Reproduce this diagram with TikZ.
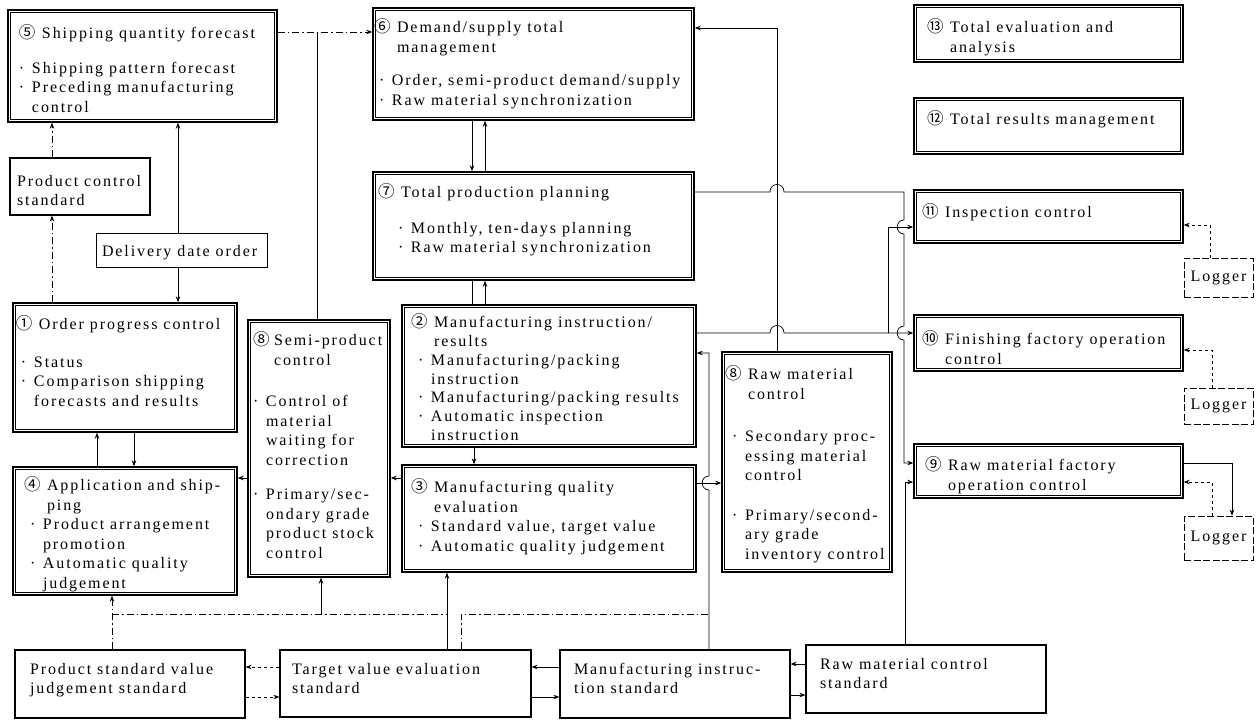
\documentclass[tikz,border=0pt]{standalone}
\usepackage{fontspec}
\setmainfont{Liberation Serif}[LetterSpace=12]
\newfontfamily\cnfont{Noto Sans CJK JP}
\usetikzlibrary{arrows.meta}
\newcommand\mainfs{\fontsize{16}{19.5}\selectfont}
\newcommand\cnum[1]{\makebox[23pt][l]{{\cnfont\fontsize{16.5}{19.5}\selectfont #1}}}
\newcommand\cnumn[1]{\makebox[21pt][l]{{\cnfont\fontsize{16.5}{19.5}\selectfont #1}}}
\newcommand\hin{\hspace*{23pt}}
\newcommand\bul{\makebox[13pt][l]{·}}
\newcommand\bhang{\hspace*{13pt}}
\newcommand\mkbox[6]{\node[#2, minimum width={(#5-#3)*1pt}, minimum height={(#6-#4)*1pt}] (#1) at ({(#3+#5)/2},{(#4+#6)/2}) {};}
\newcommand\mkdbox[5]{\node[obox, minimum width={(#4-#2)*1pt}, minimum height={(#5-#3)*1pt}] (#1) at ({(#2+#4)/2},{(#3+#5)/2}) {};
  \draw[line width=0.55pt] ([shift={(3pt,-3pt)}]#1.north west) rectangle ([shift={(-3pt,3pt)}]#1.south east);}
\begin{document}
\begin{tikzpicture}[x=1pt, y=-1pt,
  obox/.style={draw, line width=1.4pt, inner sep=0pt, outer sep=0.7pt},
  sbox/.style={draw, line width=1.2pt, inner sep=0pt, outer sep=0.6pt},
  tbox/.style={draw, line width=0.7pt, inner sep=0pt, outer sep=0.35pt},
  lbox/.style={draw, line width=0.6pt, dash pattern=on 7pt off 2.5pt, inner sep=0pt},
  txt/.style={anchor=north west, inner sep=0pt, outer sep=0pt, align=left, font=\mainfs},
  ln/.style={line width=0.7pt},
  arr/.style={ln, -{Stealth[length=6pt,width=4.5pt]}},
  dsh/.style={dash pattern=on 7pt off 3pt on 1.5pt off 3pt}]
\fill[white] (0,0) rectangle (1256,724);
\useasboundingbox (0,0) rectangle (1256,724);
% boxes
\mkdbox{n5}{8}{10}{277}{122}
\mkdbox{n6}{373}{8}{694}{120}
\mkdbox{n7}{373}{172}{694}{280}
\mkdbox{n13}{914}{5}{1183}{62}
\mkdbox{n12}{914}{98}{1183}{154}
\mkdbox{n11}{914}{190}{1183}{243}
\mkdbox{n10}{914}{315}{1183}{371}
\mkdbox{n9}{914}{444}{1183}{498}
\mkbox{pcs}{sbox}{10}{158}{150}{215}
\mkbox{ddo}{tbox}{96}{233}{267}{267}
\mkdbox{n1}{13}{303}{237}{432}
\mkdbox{n4}{13}{467}{237}{595}
\mkdbox{n8s}{248}{320}{390}{577}
\mkdbox{n2}{402}{305}{696}{447}
\mkdbox{n3}{402}{465}{696}{572}
\mkdbox{n8r}{722}{352}{892}{572}
\mkbox{lg1}{lbox}{1184}{258}{1253}{297}
\mkbox{lg2}{lbox}{1184}{388}{1253}{424}
\mkbox{lg3}{lbox}{1184}{516}{1253}{560}
\mkbox{bps}{sbox}{15}{650}{245}{718}
\mkbox{btv}{sbox}{280}{650}{531}{717}
\mkbox{bmi}{sbox}{560}{650}{790}{718}
\mkbox{brm}{sbox}{806}{645}{1046}{713}
% texts
\node[txt] (t5) at (19,25) {\cnum{⑤}Shipping quantity forecast\\[15pt]\bul Shipping pattern forecast\\\bul Preceding manufacturing\\\bhang control};
\node[txt] (t6) at (374,19) {\cnum{⑥}Demand/supply total\\\hin management\\[14pt]\hspace*{5pt}\bul Order, semi-product demand/supply\\\hspace*{5pt}\bul Raw material synchronization};
\node[txt] (t7) at (378,184) {\cnum{⑦}Total production planning\\[16pt]\hspace*{20pt}\bul Monthly, ten-days planning\\\hspace*{20pt}\bul Raw material synchronization};
\node[txt] (t13) at (927,19) {\cnum{⑬}Total evaluation and\\\hin analysis};
\node[txt] (t12) at (927,111) {\cnum{⑫}Total results management};
\node[txt] (t11) at (922,204) {\cnum{⑪}Inspection control};
\node[txt] (t10) at (922,331) {\cnum{⑩}Finishing factory operation\\\hin control};
\node[txt] (t9) at (925,457) {\cnum{⑨}Raw material factory\\\hin operation control};
\node[txt] (tpcs) at (17,175) {Product control\\standard};
\node[txt] (tddo) at (102,245) {Delivery date order};
\node[txt] (t1) at (16,316) {\cnum{①}Order progress control\\[18pt]\hspace*{5pt}\bul Status\\\hspace*{5pt}\bul Comparison shipping\\\hspace*{5pt}\bhang forecasts and results};
\node[txt] (t4) at (24,477) {\cnum{④}Application and ship-\\\hin ping\\\hspace*{6pt}\bul Product arrangement\\\hspace*{6pt}\bhang promotion\\\hspace*{6pt}\bul Automatic quality\\\hspace*{6pt}\bhang judgement};
\node[txt] (t8s) at (253,332) {\cnumn{⑧}Semi-product\\\hspace*{21pt}control\\[22pt]\bul Control of\\\bhang material\\\bhang waiting for\\\bhang correction\\[15pt]\bul Primary/sec-\\\bhang ondary grade\\\bhang product stock\\\bhang control};
\node[txt, font=\fontsize{16}{18.7}\selectfont] (t2) at (411,314) {\cnum{②}Manufacturing instruction/\\\hin results\\\hspace*{7pt}\bul Manufacturing/packing\\\hspace*{7pt}\bhang instruction\\\hspace*{7pt}\bul Manufacturing/packing results\\\hspace*{7pt}\bul Automatic inspection\\\hspace*{7pt}\bhang instruction};
\node[txt] (t3) at (411,479) {\cnum{③}Manufacturing quality\\\hin evaluation\\\hspace*{7pt}\bul Standard value, target value\\\hspace*{7pt}\bul Automatic quality judgement};
\node[txt] (t8r) at (725,366) {\cnum{⑧}Raw material\\\hin control\\[23pt]\hspace*{7pt}\bul Secondary proc-\\\hspace*{7pt}\bhang essing material\\\hspace*{7pt}\bhang control\\[20pt]\hspace*{7pt}\bul Primary/second-\\\hspace*{7pt}\bhang ary grade\\\hspace*{7pt}\bhang inventory control};
\node[font=\mainfs, inner sep=0pt] (tl1) at (lg1) {Logger};
\node[font=\mainfs, inner sep=0pt] (tl2) at (lg2) {Logger};
\node[font=\mainfs, inner sep=0pt] (tl3) at (lg3) {Logger};
\node[txt] (tbps) at (30,663) {Product standard value\\judgement standard};
\node[txt] (tbtv) at (292,663) {Target value evaluation\\standard};
\node[txt] (tbmi) at (574,663) {Manufacturing instruc-\\tion standard};
\node[txt] (tbrm) at (820,658) {Raw material control\\standard};
% coordinates
\coordinate (j1) at (317,32);
\coordinate (b1) at (888,333);
\coordinate (bus1) at (112,614);
\coordinate (bus2) at (447,614);
\coordinate (bus3) at (321,614);
\coordinate (j2) at (709,614);
% connectors top
\draw[arr, dsh] (n5.east |- 0,32) -- (n6.west |- 0,32);
\draw[ln] (317,0 |- n8s.north) -- (j1);
\draw[arr] (777,0 |- n8r.north) -- (777,28) -- (n6.east |- 0,28);
\draw[arr] (472,0 |- n6.south) -- (472,0 |- n7.north);
\draw[arr] (485,0 |- n7.north) -- (485,0 |- n6.south);
\draw[ln] (472,0 |- n7.south) -- (472,0 |- n2.north);
\draw[arr] (485,0 |- n2.north) -- (485,0 |- n7.south);
\draw[arr] (n7.east |- 0,192) -- (770,192) .. controls (770,182) and (784,182) .. (784,192) -- (904,192) -- (904,220) .. controls (895,220) and (895,234) .. (904,234) -- (904,326) .. controls (895,326) and (895,340) .. (904,340) -- (904,463) -- (n9.west |- 0,463);
\draw[arr] (n2.east |- 0,333) -- (770,333) .. controls (770,323) and (784,323) .. (784,333) -- (n10.west |- 0,333);
\draw[arr] (b1) -- (888,227) -- (n11.west |- 0,227);
\draw[arr, dashed] (1210,0 |- lg1.north) -- (1210,225) -- (n11.east |- 0,225);
\draw[arr, dashed] (1212,0 |- lg2.north) -- (1212,350) -- (n10.east |- 0,350);
\draw[arr, dashed] (1212,0 |- lg3.north) -- (1212,482) -- (n9.east |- 0,482);
\draw[arr] (n9.east |- 0,463) -- (1232,463) -- (1232,0 |- lg3.north);
\draw[arr] (905,0 |- brm.north) -- (905,482) -- (n9.west |- 0,482);
\draw[arr] (709,0 |- bmi.north) -- (709,490) .. controls (700,490) and (700,476) .. (709,476) -- (709,353) -- (n2.east |- 0,353);
\draw[arr] (n3.east |- 0,483) -- (n8r.west |- 0,483);
\draw[ln, dsh] (461,0 |- btv.north) -- (461,614) -- (j2);
\draw[arr] (474,0 |- n2.south) -- (474,0 |- n3.north);
\draw[arr] (n3.west |- 0,478) -- (n8s.east |- 0,478);
\draw[arr] (n8s.west |- 0,478) -- (n4.east |- 0,478);
\draw[arr] (134,0 |- n1.south) -- (134,0 |- n4.north);
\draw[arr] (97,0 |- n4.north) -- (97,0 |- n1.south);
\draw[arr, dsh] (52,0 |- n1.north) -- (52,0 |- pcs.south);
\draw[arr, dsh] (52,0 |- pcs.north) -- (52,0 |- n5.south);
\draw[arr] (178,0 |- ddo.north) -- (178,0 |- n5.south);
\draw[arr] (178,0 |- ddo.south) -- (178,0 |- n1.north);
\draw[arr, dsh] (112,0 |- bps.north) -- (112,0 |- n4.south);
\draw[ln, dsh] (bus1) -- (bus2);
\draw[arr] (bus3) -- (321,0 |- n8s.south);
\draw[arr] (447,0 |- btv.north) -- (447,0 |- n3.south);
% bottom row
\draw[arr, dashed] (btv.west |- 0,667) -- (bps.east |- 0,667);
\draw[arr, dashed] (bps.east |- 0,697) -- (btv.west |- 0,697);
\draw[arr] (bmi.west |- 0,667) -- (btv.east |- 0,667);
\draw[arr] (btv.east |- 0,697) -- (bmi.west |- 0,697);
\draw[arr] (brm.west |- 0,664) -- (bmi.east |- 0,664);
\draw[arr] (bmi.east |- 0,695) -- (brm.west |- 0,695);
\end{tikzpicture}
\end{document}
